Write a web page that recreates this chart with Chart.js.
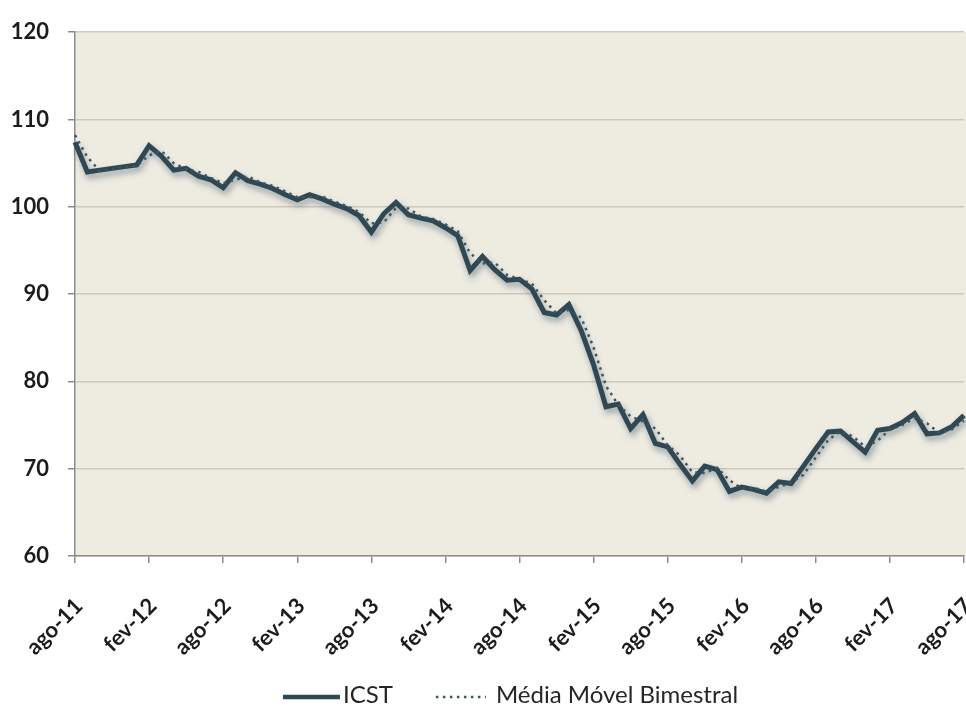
<!DOCTYPE html>
<html lang="pt">
<head>
<meta charset="utf-8">
<title>ICST</title>
<script src="https://cdn.jsdelivr.net/npm/chart.js@4.4.1/dist/chart.umd.min.js"></script>
<style>
  html, body { margin: 0; padding: 0; background: #ffffff; }
  #wrap { width: 966px; height: 706px; }
</style>
</head>
<body>
<div id="wrap"><canvas id="icstChart" width="966" height="706"></canvas></div>
<script>
// monthly labels, ago-11 .. ago-17
const months = [
  'ago-11', 'set-11', 'out-11', 'nov-11', 'dez-11', 'jan-12', 'fev-12', 'mar-12', 'abr-12', 'mai-12', 'jun-12', 'jul-12',
  'ago-12', 'set-12', 'out-12', 'nov-12', 'dez-12', 'jan-13', 'fev-13', 'mar-13', 'abr-13', 'mai-13', 'jun-13', 'jul-13',
  'ago-13', 'set-13', 'out-13', 'nov-13', 'dez-13', 'jan-14', 'fev-14', 'mar-14', 'abr-14', 'mai-14', 'jun-14', 'jul-14',
  'ago-14', 'set-14', 'out-14', 'nov-14', 'dez-14', 'jan-15', 'fev-15', 'mar-15', 'abr-15', 'mai-15', 'jun-15', 'jul-15',
  'ago-15', 'set-15', 'out-15', 'nov-15', 'dez-15', 'jan-16', 'fev-16', 'mar-16', 'abr-16', 'mai-16', 'jun-16', 'jul-16',
  'ago-16', 'set-16', 'out-16', 'nov-16', 'dez-16', 'jan-17', 'fev-17', 'mar-17', 'abr-17', 'mai-17', 'jun-17', 'jul-17',
  'ago-17'
];

// ICST index
const icst = [
  107.4, 104.0, 104.2, 104.4, 104.6, 104.8, 107.0, 105.8, 104.2, 104.4, 103.5, 103.1,
  102.2, 103.9, 103.0, 102.6, 102.1, 101.4, 100.8, 101.4, 100.9, 100.3, 99.8, 99.0,
  97.1, 99.2, 100.5, 99.1, 98.7, 98.4, 97.6, 96.7, 92.7, 94.3, 92.8, 91.6,
  91.7, 90.6, 87.9, 87.6, 88.8, 85.8, 81.9, 77.1, 77.4, 74.6, 76.2, 72.9,
  72.5, 70.5, 68.6, 70.3, 69.9, 67.4, 67.9, 67.6, 67.2, 68.5, 68.3, 70.3,
  72.3, 74.2, 74.3, 73.1, 71.9, 74.4, 74.6, 75.3, 76.3, 74.0, 74.1, 74.8,
  76.1
];

// two-month moving average
const mediaMovel = [
  108.2, 105.7, 104.1, 104.3, 104.5, 104.7, 105.9, 106.4, 105.0, 104.3, 104.0, 103.3,
  102.7, 103.1, 103.5, 102.8, 102.4, 101.8, 101.1, 101.1, 101.2, 100.6, 100.1, 99.4,
  98.1, 98.2, 99.9, 99.8, 98.9, 98.6, 98.0, 97.2, 94.7, 93.5, 93.6, 92.2,
  91.7, 91.2, 89.3, 87.8, 88.2, 87.3, 83.9, 79.5, 77.3, 76.0, 75.4, 74.6,
  72.7, 71.5, 69.6, 69.5, 70.1, 68.7, 67.7, 67.8, 67.4, 67.9, 68.4, 69.3,
  71.3, 73.3, 74.3, 73.7, 72.5, 73.2, 74.5, 75.0, 75.8, 75.2, 74.1, 74.5,
  75.5
];

const seriesNames = ['ICST', 'Média Móvel Bimestral'];
const yTicks = [60, 70, 80, 90, 100, 110, 120];

const lineColor = '#2f4853';
const dotColor = '#3a5662';
const labelFont = "Lato, 'Open Sans', sans-serif";

// beige plot background
const plotBackground = {
  id: 'plotBackground',
  beforeDraw(chart) {
    const { ctx, chartArea } = chart;
    ctx.save();
    ctx.fillStyle = '#eeebe1';
    ctx.fillRect(chartArea.left, chartArea.top, chart.width - chartArea.left, chartArea.bottom - chartArea.top);
    ctx.restore();
  }
};

// soft drop shadow under the ICST line
const lineShadow = {
  id: 'lineShadow',
  beforeDatasetDraw(chart, args) {
    if (args.index !== 0) return;
    const ctx = chart.ctx;
    ctx.save();
    ctx.shadowColor = 'rgba(70, 95, 110, 0.55)';
    ctx.shadowBlur = 6;
    ctx.shadowOffsetX = 2;
    ctx.shadowOffsetY = 4;
  },
  afterDatasetDraw(chart, args) {
    if (args.index !== 0) return;
    chart.ctx.restore();
  }
};

// legend row under the axis labels
const bottomLegend = {
  id: 'bottomLegend',
  afterDraw(chart) {
    const { ctx, chartArea } = chart;
    const items = [
      { text: seriesNames[0], color: lineColor, width: 4.5, dash: [], sample: 57, gap: 3 },
      { text: seriesNames[1], color: dotColor, width: 2.5, dash: [2.5, 4.5], sample: 50, gap: 10 }
    ];
    const spacing = 43;
    const y = 695;
    ctx.save();
    ctx.font = '24px ' + labelFont;
    ctx.textBaseline = 'middle';
    let total = 0;
    items.forEach((it, i) => {
      it.textWidth = ctx.measureText(it.text).width;
      total += it.sample + it.gap + it.textWidth + (i ? spacing : 0);
    });
    let x = (chartArea.left + chartArea.right) / 2 - 9 - total / 2;
    items.forEach((it, i) => {
      if (i) x += spacing;
      ctx.beginPath();
      ctx.strokeStyle = it.color;
      ctx.lineWidth = it.width;
      ctx.setLineDash(it.dash);
      ctx.moveTo(x, y + 2);
      ctx.lineTo(x + it.sample, y + 2);
      ctx.stroke();
      ctx.setLineDash([]);
      x += it.sample + it.gap;
      ctx.fillStyle = '#262626';
      ctx.fillText(it.text, x, y);
      x += it.textWidth;
    });
    ctx.restore();
  }
};

const ctx = document.getElementById('icstChart').getContext('2d');

const icstChart = new Chart(ctx, {
  type: 'line',
  data: {
    labels: months,
    datasets: [
      {
        label: seriesNames[0],
        data: icst,
        borderColor: lineColor,
        borderWidth: 5,
        pointRadius: 0,
        tension: 0,
        order: 1
      },
      {
        label: seriesNames[1],
        data: mediaMovel,
        borderColor: dotColor,
        borderWidth: 2.5,
        borderDash: [2.5, 4.5],
        pointRadius: 0,
        tension: 0,
        order: 0
      }
    ]
  },
  options: {
    responsive: false,
    animation: false,
    layout: {
      padding: { top: 28, right: 2, left: 0, bottom: 20 }
    },
    plugins: {
      legend: { display: false },
      tooltip: { enabled: false }
    },
    scales: {
      x: {
        type: 'category',
        offset: false,
        afterFit(scale) {
          scale.height = 130;
          scale.paddingLeft = 0;
          scale.paddingRight = 0;
        },
        grid: {
          drawOnChartArea: false,
          drawTicks: true,
          tickLength: 7,
          tickColor: '#8c8c8c',
          lineWidth: 1.5
        },
        border: { color: '#8c8c8c', width: 1.5 },
        ticks: {
          autoSkip: false,
          minRotation: 45,
          maxRotation: 45,
          padding: 30,
          labelOffset: 4,
          color: '#1c1c1c',
          font: { family: labelFont, size: 22, weight: 'bold' },
          // one label every six months
          callback(value, index) {
            return index % 6 === 0 ? months[index] : null;
          }
        }
      },
      y: {
        min: yTicks[0],
        max: yTicks[yTicks.length - 1],
        afterFit(scale) { scale.width = 75; },
        afterBuildTicks(scale) {
          scale.ticks = yTicks.map(v => ({ value: v }));
        },
        grid: {
          color: '#cdc9bc',
          lineWidth: 1.5,
          tickLength: 7,
          tickColor: '#8c8c8c'
        },
        border: { color: '#8c8c8c', width: 1.5 },
        ticks: {
          padding: 19,
          color: '#1c1c1c',
          font: { family: labelFont, size: 22, weight: 'bold' }
        }
      }
    }
  },
  plugins: [plotBackground, lineShadow, bottomLegend]
});
</script>
</body>
</html>
